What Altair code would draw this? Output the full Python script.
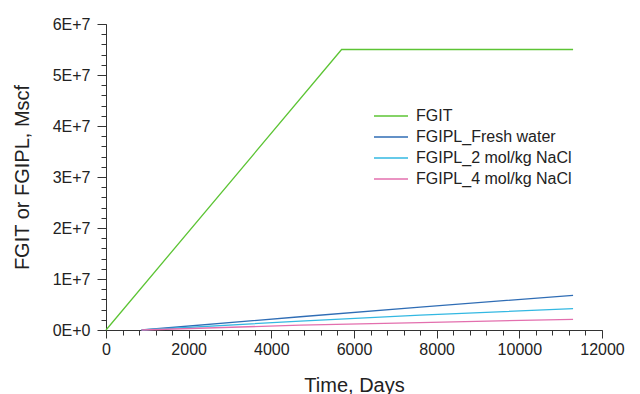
import altair as alt
import pandas as pd

series_names = ["FGIT", "FGIPL_Fresh water", "FGIPL_2 mol/kg NaCl", "FGIPL_4 mol/kg NaCl"]
series_colors = ["#5cc434", "#2f6db5", "#33b8e2", "#e36fae"]

fgit_days = [0, 5700, 11300]
fgit_vals = [0, 5.5e7, 5.5e7]
fresh_days = [860, 4700, 7600, 11300]
fresh_vals = [0, 2.6e6, 4.5e6, 6.8e6]
nacl2_days = [860, 4700, 7600, 11300]
nacl2_vals = [0, 1.75e6, 2.9e6, 4.2e6]
nacl4_days = [860, 4700, 7600, 11300]
nacl4_vals = [0, 0.95e6, 1.45e6, 2.1e6]

x_major = list(range(0, 12001, 2000))
x_minor = list(range(0, 12001, 400))
y_major = [0, 1e7, 2e7, 3e7, 4e7, 5e7, 6e7]
y_minor = [i * 2e6 for i in range(31)]

rows = []
for name, days, vals in zip(series_names,
                            [fgit_days, fresh_days, nacl2_days, nacl4_days],
                            [fgit_vals, fresh_vals, nacl2_vals, nacl4_vals]):
    for d, v in zip(days, vals):
        rows.append({"series": name, "day": d, "value": v})
df = pd.DataFrame(rows)

FONT = "Liberation Sans"
TICK = "#333333"
xscale = alt.Scale(domain=[0, 12000], nice=False, zero=False)
yscale = alt.Scale(domain=[0, 6e7], nice=False)

minor = alt.Chart(df).mark_line(opacity=0).encode(
    x=alt.X("day:Q", scale=xscale,
            axis=alt.Axis(values=x_minor, labels=False, ticks=True, tickSize=5, domain=False,
                          grid=False, orient="bottom", title=None,
                          tickColor=TICK, tickWidth=1, tickOpacity=1)),
    y=alt.Y("value:Q", scale=yscale,
            axis=alt.Axis(values=y_minor, labels=False, ticks=True, tickSize=5, domain=False,
                          grid=False, orient="left", title=None,
                          tickColor=TICK, tickWidth=1, tickOpacity=1)),
    detail="series:N",
)

major = alt.Chart(df).mark_line(strokeWidth=1.3).encode(
    x=alt.X("day:Q", scale=xscale,
            axis=alt.Axis(values=x_major, ticks=True, tickSize=8, grid=False, orient="bottom",
                          format="d", labelFlush=False,
                          title="Time, Days", labelFont=FONT, labelFontSize=16,
                          labelColor="#222", labelPadding=3, domainColor=TICK,
                          tickColor=TICK, tickWidth=1, tickOpacity=1,
                          titleFont=FONT, titleFontSize=20,
                          titleFontWeight="normal", titleColor="#222",
                          titleBaseline="alphabetic", titleY=61)),
    y=alt.Y("value:Q", scale=yscale,
            axis=alt.Axis(values=y_major, ticks=True, tickSize=9, grid=False, orient="left",
                          labelFlush=False,
                          title="FGIT or FGIPL, Mscf", labelFont=FONT, labelFontSize=16,
                          labelColor="#222", labelPadding=7, domainColor=TICK,
                          tickColor=TICK, tickWidth=1, tickOpacity=1,
                          titleFont=FONT, titleFontSize=20,
                          titleFontWeight="normal", titleColor="#222",
                          titleBaseline="alphabetic", titleX=-78, titleY=153,
                          labelExpr="datum.value == 0 ? '0E+0' : (datum.value / 1e7) + 'E+7'")),
    color=alt.Color("series:N",
                    scale=alt.Scale(domain=series_names, range=series_colors),
                    legend=alt.Legend(orient="none", legendX=267, legendY=84, title=None,
                                      symbolType="stroke", symbolSize=1156,
                                      symbolStrokeWidth=1.5, labelFont=FONT,
                                      labelFontSize=16, labelColor="#222",
                                      labelOffset=7, clipHeight=16, rowPadding=5,
                                      padding=0)),
    order="day:Q",
)

chart = alt.layer(minor, major).resolve_axis(x="independent", y="independent").properties(
    width=496, height=306,
    autosize=alt.AutoSizeParams(type="none"),
    padding={"left": 98, "top": 16, "right": 30, "bottom": 64},
).configure_view(stroke=None)

chart.save("out.html", embed_options={"renderer": "svg", "actions": False})
